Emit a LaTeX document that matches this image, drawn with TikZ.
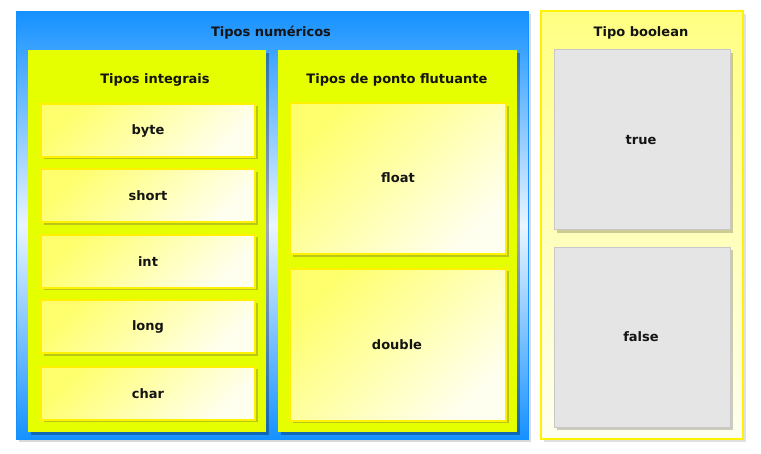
\documentclass[tikz,border=0pt]{standalone}
\usepackage{fontspec}
\setmainfont{DejaVu Sans}
\usetikzlibrary{shadows}
\definecolor{blueDark}{RGB}{20,145,255}
\definecolor{blueLight}{RGB}{235,245,255}
\definecolor{lime}{RGB}{230,255,0}
\definecolor{paleY}{RGB}{255,255,110}
\definecolor{creamY}{RGB}{255,255,240}
\definecolor{boolTop}{RGB}{255,255,130}
\definecolor{boolBot}{RGB}{255,255,240}
\definecolor{cellGray}{RGB}{229,229,229}
\definecolor{cellEdge}{RGB}{200,200,200}
\definecolor{ink}{RGB}{20,20,20}
\tikzset{
  lbl/.style={font=\bfseries\fontsize{13}{15}\selectfont, text=ink},
  numbox/.style={rectangle, draw=blueDark, line width=1pt, inner sep=0pt,
    top color=blueDark, bottom color=blueDark, middle color=blueLight,
    drop shadow={shadow xshift=3pt, shadow yshift=-3pt, fill=black, opacity=0.15}},
  groupbox/.style={rectangle, fill=lime, inner sep=0pt,
    drop shadow={shadow xshift=3pt, shadow yshift=-3pt, fill=black, opacity=0.3}},
  boolbox/.style={rectangle, draw=yellow, line width=2pt, inner sep=0pt,
    top color=boolTop, bottom color=boolBot,
    drop shadow={shadow xshift=3pt, shadow yshift=-3pt, fill=black, opacity=0.12}},
  cell/.style={rectangle, draw=yellow, line width=2pt, inner sep=0pt,
    left color=paleY, right color=creamY, shading angle=45, lbl,
    drop shadow={shadow xshift=2.5pt, shadow yshift=-2.5pt, fill=black!70!yellow, opacity=0.35}},
  graycell/.style={rectangle, draw=cellEdge, line width=1pt, fill=cellGray, inner sep=0pt, lbl,
    drop shadow={shadow xshift=3pt, shadow yshift=-3pt, fill=black, opacity=0.2}},
}
\begin{document}
\begin{tikzpicture}[x=1pt,y=-1pt]
\useasboundingbox[fill=white] (0,0) rectangle (761,454);

% numeric types container
\node[numbox, minimum width=512pt, minimum height=428pt] (num) at (272,225.5) {};
\node[lbl] (numT) at (271,33) {Tipos numéricos};

% integral types
\node[groupbox, minimum width=238pt, minimum height=382pt] (intg) at (147,241) {};
\node[lbl] (intgT) at (155,80) {Tipos integrais};
\node[cell, minimum width=214pt, minimum height=53pt] (byte)  at (148,130.5) {byte};
\node[cell, minimum width=214pt, minimum height=53pt] (short) at (148,196) {short};
\node[cell, minimum width=214pt, minimum height=53pt] (int)   at (148,261.5) {int};
\node[cell, minimum width=214pt, minimum height=53pt] (long)  at (148,327) {long};
\node[cell, minimum width=214pt, minimum height=53pt] (char)  at (148,393.5) {char};

% floating point types
\node[groupbox, minimum width=239pt, minimum height=382pt] (flt) at (397.5,241) {};
\node[lbl] (fltT) at (397,80) {Tipos de ponto flutuante};
\node[cell, minimum width=216pt, minimum height=151pt] (float) at (398,179) {};
\node[lbl] (floatT) at (398,178) {float};
\node[cell, minimum width=216pt, minimum height=152pt] (double) at (398,345) {};
\node[lbl] (doubleT) at (397,345) {double};

% boolean type
\node[boolbox, minimum width=202pt, minimum height=428pt] (bool) at (642,225.5) {};
\node[lbl] (boolT) at (641,33) {Tipo boolean};
\node[graycell, minimum width=176pt, minimum height=180pt] (true) at (642,140) {};
\node[lbl] (trueT) at (641,140) {true};
\node[graycell, minimum width=176pt, minimum height=180pt] (false) at (642,337.5) {};
\node[lbl] (falseT) at (641,337) {false};
\end{tikzpicture}
\end{document}
